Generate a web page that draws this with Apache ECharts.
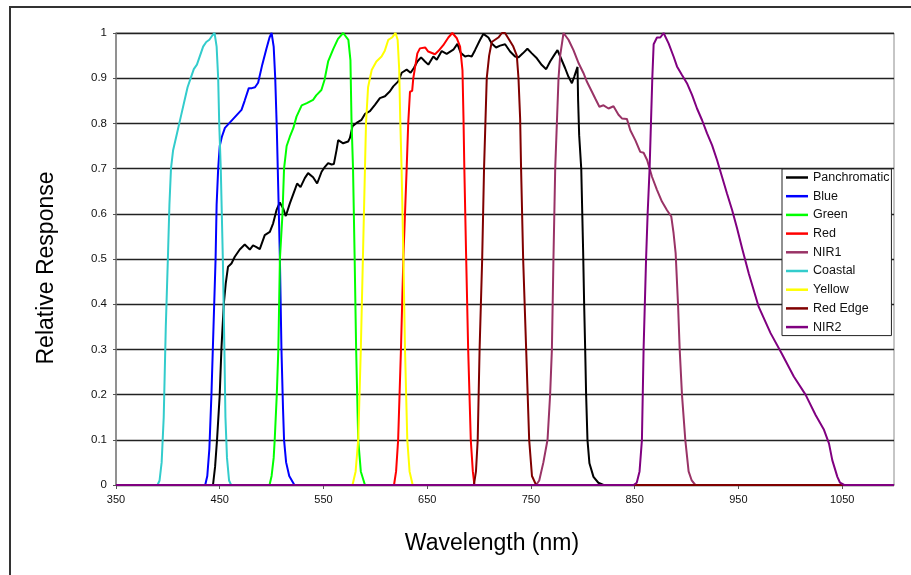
<!DOCTYPE html>
<html>
<head>
<meta charset="utf-8">
<title>Relative Response</title>
<script src="https://cdn.jsdelivr.net/npm/echarts@6/dist/echarts.min.js"></script>
<style>
	html, body { margin: 0; padding: 0; background: #fff; }
	#spectral { width: 911px; height: 575px; }
</style>
</head>
<body>
<div id="spectral"></div>
<script>
	"use strict";

	/*---- band responses, [wavelength nm, relative response] ----*/
	var panchromatic = [[350,0],[443.5,0],[445.5,0.04],[447.4,0.1],[450,0.2],[451.6,0.3],[453.9,0.4],[455.8,0.446],[458,0.483],[461.3,0.49],[464.5,0.505],[469.3,0.521],[474.1,0.532],[479,0.521],[482.1,0.53],[485,0.527],[488.6,0.522],[493.4,0.553],[498.3,0.56],[501.5,0.579],[504.7,0.608],[507.9,0.625],[511.1,0.612],[513.7,0.595],[517.6,0.623],[522.4,0.653],[524.6,0.667],[527.9,0.659],[532,0.679],[535.2,0.69],[540,0.681],[543.9,0.667],[548.2,0.693],[551.4,0.704],[554.5,0.712],[557.8,0.709],[560,0.71],[562.6,0.741],[564.2,0.763],[569,0.756],[573.8,0.76],[575.5,0.768],[578,0.794],[581.9,0.801],[586.7,0.808],[590,0.821],[594.8,0.827],[599.6,0.841],[604.4,0.856],[609.3,0.86],[614.1,0.871],[617.3,0.882],[622.1,0.893],[625.4,0.912],[630.2,0.919],[634,0.912],[637.3,0.923],[640.5,0.937],[644.1,0.946],[647.9,0.937],[651.1,0.93],[655.9,0.948],[659.2,0.941],[664,0.96],[668.8,0.954],[675.2,0.963],[679.1,0.976],[682.3,0.956],[686.5,0.948],[689.7,0.95],[692.9,0.948],[696.1,0.962],[701,0.985],[704.1,0.998],[709,0.99],[712.2,0.977],[716.4,0.968],[720.3,0.972],[725.1,0.975],[729.9,0.959],[734.7,0.948],[737.9,0.946],[742.2,0.955],[746.6,0.965],[750.9,0.955],[755.7,0.944],[760.5,0.929],[764.7,0.92],[768.5,0.937],[772.4,0.951],[775.6,0.962],[778.2,0.948],[783,0.922],[786.2,0.903],[789.5,0.889],[791.7,0.903],[794.9,0.925],[795.5,0.85],[796.5,0.774],[798.5,0.7],[800.3,0.52],[801.3,0.4],[802.3,0.3],[803.2,0.2],[804.5,0.1],[806.4,0.048],[810.3,0.018],[815,0.005],[820,0],[1100,0]];

	var blue = [[350,0],[436,0],[438,0.02],[440,0.08],[442,0.2],[444,0.35],[446,0.5],[447,0.62],[448.5,0.7],[450,0.75],[452,0.77],[455,0.79],[459,0.8],[463,0.81],[467,0.82],[471,0.83],[474,0.85],[478,0.878],[481,0.878],[484,0.88],[487,0.89],[491,0.93],[495,0.965],[498,0.99],[500,1],[502,0.97],[503.5,0.9],[505,0.79],[507,0.6],[508,0.5],[509.5,0.3],[511,0.17],[512,0.1],[514,0.05],[517,0.02],[522,0],[1100,0]];

	var green = [[350,0],[498,0],[500,0.02],[502,0.06],[503,0.1],[505,0.2],[506.5,0.3],[508,0.5],[510.5,0.6],[512,0.7],[514.5,0.75],[517.5,0.77],[521,0.79],[524,0.815],[529,0.84],[534,0.845],[540,0.852],[543,0.862],[548,0.874],[551,0.896],[554.5,0.937],[559.5,0.965],[564,0.987],[569,1],[574,0.985],[576,0.94],[577,0.81],[578.5,0.7],[580,0.51],[581.5,0.3],[583.5,0.1],[586,0.03],[590,0],[1100,0]];

	var red = [[350,0],[618,0],[620,0.03],[622,0.1],[624.7,0.3],[627,0.5],[628.6,0.6],[630.2,0.7],[631.7,0.8],[633.4,0.87],[635.5,0.872],[636.6,0.9],[640.5,0.955],[643,0.966],[648,0.968],[651,0.959],[657.5,0.953],[660.7,0.96],[665.5,0.973],[670.4,0.99],[674.2,1],[678.4,0.989],[681.7,0.97],[684,0.918],[685,0.81],[685.8,0.7],[687.5,0.51],[689.5,0.3],[692,0.1],[694,0.03],[695.5,0],[1100,0]];

	var nir1 = [[350,0],[755,0],[758,0.01],[762,0.05],[766,0.1],[768.5,0.2],[770.2,0.3],[771.7,0.5],[773.4,0.7],[775,0.8],[776.6,0.9],[778.2,0.95],[781.4,1],[786.2,0.985],[791,0.962],[796,0.933],[800.7,0.911],[804,0.892],[808.8,0.87],[812,0.855],[816,0.837],[820,0.84],[824.8,0.833],[829.6,0.838],[834.4,0.819],[837.7,0.811],[842.5,0.81],[845.8,0.785],[850.6,0.763],[855.4,0.737],[858.6,0.735],[862,0.719],[866.7,0.682],[871.5,0.653],[876.3,0.627],[881.2,0.608],[885.3,0.594],[887.5,0.557],[889.5,0.513],[891.8,0.4],[893.4,0.3],[895.6,0.2],[898.8,0.1],[902,0.03],[905,0.01],[908.5,0],[1100,0]];

	var coastal = [[350,0],[390,0],[392,0.01],[394,0.05],[396,0.15],[398,0.35],[400,0.5],[401.5,0.62],[403,0.7],[405,0.74],[407,0.76],[409,0.78],[411,0.8],[413,0.82],[416,0.85],[419,0.88],[422,0.9],[425,0.92],[428,0.93],[431,0.95],[434,0.97],[437,0.98],[440,0.985],[443,0.995],[445,1],[447,0.97],[448.5,0.9],[449.5,0.8],[451,0.7],[452,0.6],[453,0.5],[454.5,0.3],[455.5,0.15],[457,0.06],[459,0.01],[461,0],[1100,0]];

	var yellow = [[350,0],[578,0],[581,0.03],[583.5,0.1],[586,0.3],[588,0.5],[590,0.7],[591,0.8],[593,0.88],[596.5,0.918],[601,0.937],[606,0.948],[609,0.96],[612.5,0.985],[616,0.99],[619.5,1],[621.5,0.985],[623,0.92],[624,0.81],[625.3,0.7],[627,0.51],[628.6,0.3],[630.8,0.1],[633,0.03],[636,0],[1100,0]];

	var redEdge = [[350,0],[695,0],[697,0.03],[698.7,0.1],[700.5,0.3],[703,0.5],[704.8,0.7],[706.1,0.8],[707.4,0.9],[709.7,0.95],[712.2,0.98],[715.4,0.985],[718.6,0.99],[722,1],[725,1],[728.3,0.988],[733,0.97],[736.4,0.95],[738,0.9],[739.6,0.81],[740.5,0.7],[742.5,0.5],[745.4,0.3],[748.3,0.1],[751,0.02],[755,0],[1100,0]];

	var nir2 = [[350,0],[849,0],[852,0.005],[854.7,0.03],[857,0.1],[858.6,0.3],[861,0.5],[862.5,0.6],[864.4,0.7],[865.7,0.8],[867,0.9],[868.3,0.975],[871.5,0.99],[874.7,0.99],[877.9,1],[882.7,0.977],[887.5,0.948],[890.8,0.926],[895.6,0.907],[900.4,0.889],[905.3,0.863],[910.1,0.833],[915,0.807],[919.8,0.778],[924.6,0.752],[929.4,0.719],[934.2,0.682],[939,0.645],[944,0.608],[948.7,0.568],[954,0.52],[960,0.468],[969.6,0.394],[981,0.336],[992,0.29],[1003.4,0.24],[1014.7,0.2],[1024.4,0.155],[1032.5,0.122],[1037.3,0.092],[1040.5,0.055],[1045.4,0.018],[1048,0.005],[1052,0],[1100,0]];

	var bandNames = ['Panchromatic', 'Blue', 'Green', 'Red', 'NIR1', 'Coastal', 'Yellow', 'Red Edge', 'NIR2'];
	var bandData = [panchromatic, blue, green, red, nir1, coastal, yellow, redEdge, nir2];
	var bandColors = ['#000000', '#0000ff', '#00ff00', '#ff0000', '#993366', '#33cccc', '#ffff00', '#800000', '#800080'];

	function spectralChart() {

		var series = bandNames.map(function (name, i) {
			return {
				name: name,
				type: 'line',
				data: bandData[i],
				showSymbol: false,
				symbol: 'none',
				animation: false,
				color: bandColors[i],
				lineStyle: {
					width: 2,
					color: bandColors[i]
				}
			};
		});

		var option = {
			animation: false,
			textStyle: { fontFamily: 'Liberation Sans, Arial, sans-serif' },
			graphic: [{
				type: 'rect',
				silent: true,
				z: -10,
				shape: { x: 10, y: 7, width: 1000, height: 700 },
				style: { fill: 'none', stroke: '#333', lineWidth: 2 }
			}],
			grid: {
				left: 116,
				right: 17,
				top: 33,
				bottom: 90,
				show: true,
				borderColor: '#8c8c8c',
				borderWidth: 1
			},
			legend: {
				data: bandNames,
				orient: 'vertical',
				left: 782,
				top: 169,
				backgroundColor: '#fff',
				borderColor: '#222',
				borderWidth: 1,
				borderRadius: 0,
				padding: [2, 2, 2, 4],
				itemWidth: 22,
				itemHeight: 2.5,
				itemGap: 5.7,
				icon: 'rect',
				textStyle: {
					fontSize: 12.5,
					lineHeight: 13,
					color: '#111'
				}
			},
			xAxis: {
				type: 'value',
				min: 350,
				max: 1100,
				interval: 100,
				name: 'Wavelength (nm)',
				nameLocation: 'middle',
				nameGap: 47,
				nameTextStyle: {
					fontSize: 23,
					color: '#000',
					padding: [0, 26, 0, 0]
				},
				axisLine: { lineStyle: { color: '#808080', width: 1.5 } },
				axisTick: { show: true, length: 4, lineStyle: { color: '#555' } },
				axisLabel: {
					fontSize: 11,
					color: '#111',
					margin: 9,
					showMaxLabel: false,
					formatter: function (v) { return String(v); }
				},
				splitLine: { show: false }
			},
			yAxis: {
				type: 'value',
				min: 0,
				max: 1,
				interval: 0.1,
				name: 'Relative Response',
				nameLocation: 'middle',
				nameGap: 58,
				nameTextStyle: {
					fontSize: 23,
					color: '#000',
					padding: [0, 18, 0, 0]
				},
				axisLine: { show: true, lineStyle: { color: '#808080', width: 1.5 } },
				axisTick: { show: true, length: 3, lineStyle: { color: '#555' } },
				axisLabel: {
					fontSize: 11.5,
					color: '#111',
					margin: 9
				},
				splitLine: { show: true, lineStyle: { color: '#222', width: 1.3 } }
			},
			series: series
		};

		var chart = echarts.init(document.getElementById('spectral'), null, { renderer: 'canvas' });
		chart.setOption(option);
		window.addEventListener('resize', function () {
			chart.resize();
		});
	}

	spectralChart();
</script>
</body>
</html>
